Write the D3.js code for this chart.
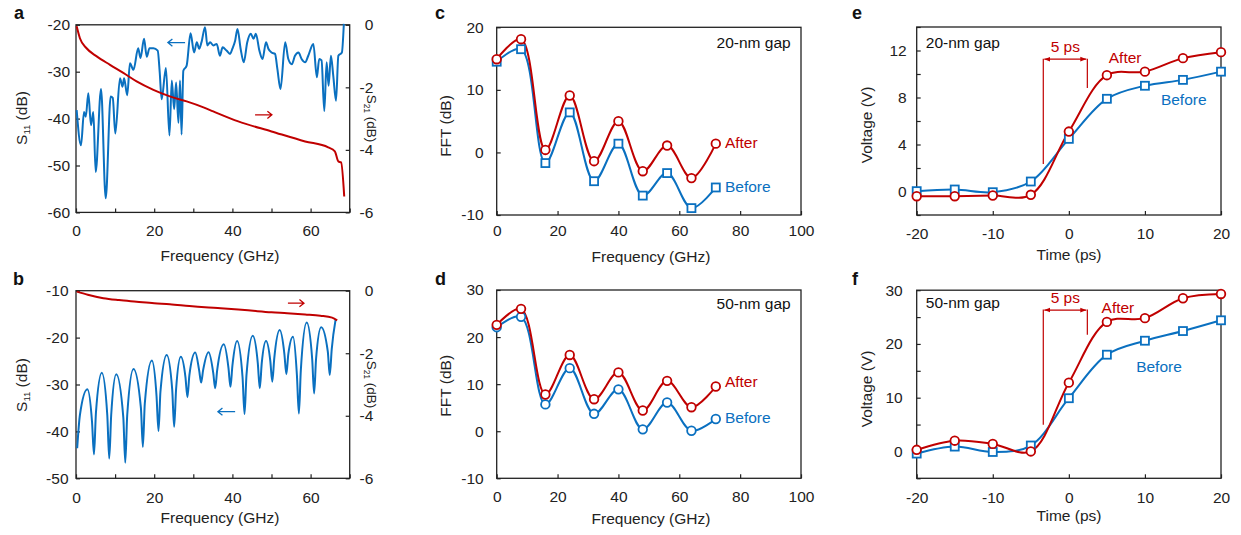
<!DOCTYPE html>
<html>
<head>
<meta charset="utf-8">
<script src="https://cdn.jsdelivr.net/npm/d3@7"></script>
<style>
  body { margin: 0; background: #fff; }
  svg text { font-family: "Liberation Sans", Arial, Helvetica, sans-serif; }
</style>
</head>
<body>
<div id="chart"></div>
<script>
// ---------- data ----------
// a: 20-nm gap device, S11 (left axis) and S21 (right axis)
const aS11Freq = [0.17, 1.28, 2.05, 2.5, 3.15, 3.84, 4.43, 5.03, 6.4, 7.6, 8.87, 9.4, 10.05, 11.25, 11.9, 12.3,
  13.1, 13.8, 14.7, 15.9, 16.5, 17.4, 18.1, 18.8, 19.8, 20.9, 21.4, 21.9, 23.0, 23.9, 24.5, 25.1, 25.6, 26.2,
  26.6, 27.0, 27.45, 28.3, 29.3, 30.2, 30.9, 31.5, 32.1, 33.0, 33.6, 34.3, 35.1, 36.0, 36.8, 37.5, 38.5,
  39.4, 40.0, 40.7, 41.3, 42.1, 42.9, 43.8, 44.7, 45.4, 46.0, 46.9, 47.7, 48.6, 49.2, 50.0, 50.9, 51.5,
  52.3, 53.5, 54.3, 55.2, 56.0, 56.9, 57.7, 58.6, 59.4, 60.7, 61.6, 62.2, 62.8, 63.5, 64.1, 64.6, 65.2,
  65.8, 66.5, 67.1, 68.0, 68.5];
const aS11 = [-38.2, -45.7, -38.6, -39.6, -34.6, -41.4, -38.6, -51.4, -33.7, -57, -35.3, -35.6, -43.2, -31.4, -33.2, -31.4,
  -35, -28.2, -29.6, -25, -27.1, -23, -26.8, -25, -25, -25.5, -30, -35.9, -29.2, -43.6, -31.9, -38, -32.3, -40.9,
  -31.9, -43.4, -29.8, -28.7, -21.8, -25.9, -23.7, -25.1, -23.7, -20.5, -24.4, -23.7, -24.4, -24.1, -26.6, -24.8, -25.5,
  -26.2, -25.1, -23.4, -20.9, -25.1, -28, -23.7, -21.9, -23, -21.9, -25.5, -27.3, -23.7, -25.1, -25.9, -26.2, -29.4,
  -33.7, -23.7, -27.3, -28.4, -26.6, -25.9, -27.3, -28, -26.6, -24.1, -31.2, -27.3, -27.6, -38.4, -28, -33, -26.6,
  -30.9, -36.2, -26.6, -25.9, -19.8];
const aS21Freq = [0.17, 1.0, 2.7, 5.3, 8.7, 12.1, 15.5, 19.8, 24.0, 28.3, 32.6, 35.1, 41.5, 50.0, 58.6, 64.5, 66.2, 67.1, 67.8, 68.6];
const aS21 = [-0.05, -0.43, -0.75, -1.01, -1.28, -1.54, -1.81, -2.08, -2.29, -2.45, -2.64, -2.77, -3.09, -3.41, -3.73, -3.92, -4.05, -4.37, -4.4, -5.49];

// b: 50-nm gap device
const bS11Freq = [0.3, 1.0, 2.9, 4.1, 4.6, 5.1, 6.6, 8.0, 8.5, 9.0, 10.3, 12.1, 12.6, 13.1, 14.7, 16.6, 17.1, 17.6,
  19.4, 20.6, 21.1, 21.6, 23.2, 24.6, 25.1, 25.6, 26.8, 28.0, 28.5, 29.0, 30.5, 31.5, 32.0, 32.5, 33.9, 35.1,
  35.6, 36.1, 37.8, 39.0, 39.5, 40.0, 41.2, 42.6, 43.1, 43.6, 45.2, 46.5, 47.0, 47.5, 48.6, 49.7, 50.2, 50.7,
  52.1, 53.3, 53.8, 54.3, 55.5, 56.5, 57.0, 57.5, 59.0, 60.4, 60.9, 61.4, 62.7, 64.4, 64.9, 65.4, 66.4];
const bS11 = [-43.6, -36.5, -31.0, -38, -44.9, -36, -27.5, -36.5, -45.8, -36.5, -27.8, -37, -46.7, -36.5, -26.7, -35, -43.3, -34,
  -24.9, -32.5, -39.9, -31.5, -23.7, -31, -39.0, -31, -24.1, -28.5, -32.7, -28, -23.2, -27, -29.6, -27, -23.1, -27.5,
  -30.8, -27, -21.4, -26.5, -30.5, -26, -20.7, -28.5, -36.3, -28, -19.6, -25.5, -30.8, -25.5, -20.7, -25, -29.4, -24.5,
  -18.4, -23.5, -27.8, -23.5, -19.8, -28, -36.2, -27, -16.8, -24.5, -31.9, -24.5, -17.8, -23, -28.0, -22.5, -16.1];
const bS21Freq = [0.2, 3.0, 7.0, 11.0, 15.5, 20.0, 24.0, 29.0, 33.0, 37.0, 41.5, 46.0, 50.0, 54.0, 58.6, 62.5, 65.5, 66.8];
const bS21 = [-0.03, -0.13, -0.24, -0.3, -0.35, -0.4, -0.43, -0.49, -0.53, -0.56, -0.6, -0.65, -0.69, -0.72, -0.76, -0.8, -0.86, -0.95];

// c, d: FFT before / after
const fftFreq = [0, 8, 16, 24, 32, 40, 48, 56, 64, 72];
const cAfter = [14.9, 18.1, 0.4, 9.1, -1.4, 5.0, -3.0, 1.1, -4.1, 1.4];
const cBefore = [14.5, 16.5, -1.7, 6.4, -4.6, 1.4, -6.9, -3.3, -8.9, -5.6];
const dAfter = [22.6, 26.0, 7.8, 16.2, 6.8, 12.5, 4.4, 10.7, 5.1, 9.5];
const dBefore = [22.1, 24.3, 5.7, 13.4, 3.7, 8.9, 0.4, 6.1, 0.1, 2.6];

// e, f: voltage vs time
const time = [-20, -15, -10, -5, 0, 5, 10, 15, 20];
const eAfter = [-0.4, -0.4, -0.34, -0.28, 5.1, 9.9, 10.2, 11.35, 11.86];
const eBefore = [0.03, 0.17, -0.06, 0.85, 4.48, 7.89, 9.0, 9.5, 10.2];
const fAfter = [0.3, 2.0, 1.4, 0.0, 12.8, 24.1, 24.8, 28.5, 29.3];
const fBefore = [-0.4, 0.9, -0.1, 1.1, 9.9, 18.0, 20.6, 22.4, 24.4];

const BLUE = "#0a70c0", RED = "#c00000", AXIS = "#222";
const FONT = '"Liberation Sans", Arial, Helvetica, sans-serif';
const FS = 15.5;
const SMOOTH = d3.curveCatmullRom.alpha(0.5);

const svg = d3.select("#chart").append("svg")
  .attr("width", 1241).attr("height", 535);

svg.append("defs").append("marker")
  .attr("id", "tri").attr("viewBox", "0 0 10 10")
  .attr("refX", 10).attr("refY", 5)
  .attr("markerWidth", 5).attr("markerHeight", 5)
  .attr("orient", "auto-start-reverse")
  .append("path").attr("d", "M0,1L10,5L0,9Z").attr("fill", RED);

const zip = (xs, ys) => xs.map((v, i) => [v, ys[i]]);

function styleAxis(sel) {
  sel.attr("font-size", FS).attr("font-family", FONT).attr("color", AXIS);
  sel.select(".domain").remove();
  sel.selectAll(".tick line").attr("stroke-width", 1.2);
}

// frame + axes of one panel
function panel(p) {
  const g = svg.append("g");
  const x = d3.scaleLinear().domain(p.xDomain).range([p.left, p.right]);
  const y = d3.scaleLinear().domain(p.yDomain).range([p.bottom, p.top]);

  g.append("rect")
    .attr("x", p.left).attr("y", p.top)
    .attr("width", p.right - p.left).attr("height", p.bottom - p.top)
    .attr("fill", "none").attr("stroke", AXIS).attr("stroke-width", 1.3);

  g.append("g")
    .attr("transform", `translate(0,${p.bottom})`)
    .call(d3.axisBottom(x).tickValues(p.xTicks)
      .tickFormat(d => p.xLabels.includes(d) ? String(d) : "")
      .tickSizeInner(-4).tickSizeOuter(0).tickPadding(p.xPad))
    .call(styleAxis);

  g.append("g")
    .attr("transform", `translate(${p.left},0)`)
    .call(d3.axisLeft(y).tickValues(p.yTicks)
      .tickFormat(d => p.yLabels.includes(d) ? String(d) : "")
      .tickSizeInner(-4).tickSizeOuter(0).tickPadding(p.yPad))
    .call(styleAxis);

  let y2 = null;
  if (p.y2Domain) {
    y2 = d3.scaleLinear().domain(p.y2Domain).range([p.bottom, p.top]);
    g.append("g")
      .attr("transform", `translate(${p.right},0)`)
      .call(d3.axisRight(y2).tickValues(p.y2Ticks).tickFormat(d => String(d))
        .tickSizeInner(-4).tickSizeOuter(0))
      .call(styleAxis)
      .call(s => s.selectAll("text").attr("text-anchor", "end").attr("x", 23.6));
  }

  // titles
  g.append("text").attr("x", p.xTitle[0]).attr("y", p.xTitle[1])
    .attr("text-anchor", "middle").attr("font-size", FS).attr("fill", AXIS)
    .text(p.xTitleText);

  const yt = g.append("text")
    .attr("transform", `translate(${p.yTitle[0]},${p.yTitle[1]}) rotate(-90)`)
    .attr("text-anchor", "middle").attr("dy", "0.35em").attr("font-size", FS).attr("fill", AXIS);
  addTitle(yt, p.yTitleText, 9.5);

  if (p.y2Title) {
    const t2 = g.append("text")
      .attr("transform", `translate(${p.y2Title[0]},${p.y2Title[1]}) rotate(90)`)
      .attr("text-anchor", "middle").attr("dy", "0.35em").attr("font-size", 13.5).attr("fill", AXIS);
    addTitle(t2, p.y2TitleText, 8.5);
  }

  g.append("text").attr("x", p.letter[0]).attr("y", p.letter[1])
    .attr("font-size", 18).attr("font-weight", "bold").attr("fill", "#111")
    .text(p.letterText);

  return { g, x, y, y2 };
}

// title given as [main, subscript, rest]
function addTitle(t, parts, subSize) {
  if (typeof parts === "string") { t.text(parts); return; }
  t.append("tspan").text(parts[0]);
  t.append("tspan").attr("font-size", subSize).attr("dy", 3).text(parts[1]);
  t.append("tspan").attr("dy", -3).text(parts[2]);
}

function line(g, x, y, pts, color, curve, width) {
  g.append("path").datum(pts)
    .attr("fill", "none").attr("stroke", color).attr("stroke-width", width || 2)
    .attr("stroke-linejoin", "round")
    .attr("d", d3.line().x(d => x(d[0])).y(d => y(d[1])).curve(curve));
}

function markers(g, x, y, pts, color, shape) {
  if (shape === "circle") {
    g.selectAll(null).data(pts).join("circle")
      .attr("cx", d => x(d[0])).attr("cy", d => y(d[1])).attr("r", 4.3)
      .attr("fill", "#fff").attr("stroke", color).attr("stroke-width", 1.8);
  } else {
    g.selectAll(null).data(pts).join("rect")
      .attr("x", d => x(d[0]) - 4).attr("y", d => y(d[1]) - 4)
      .attr("width", 8).attr("height", 8)
      .attr("fill", "#fff").attr("stroke", color).attr("stroke-width", 1.8);
  }
}

function label(g, x, y, px, py, txt, color, anchor) {
  g.append("text").attr("x", x(px)).attr("y", y(py))
    .attr("text-anchor", anchor || "start").attr("font-size", FS).attr("fill", color)
    .text(txt);
}

// little text-style arrow (open head)
function arrow(g, x, y, x1, x2, yv, color) {
  const a = x(x1), b = x(x2), py = y(yv), dir = Math.sign(b - a), h = 4.5;
  g.append("path")
    .attr("d", `M${a},${py}L${b},${py}M${b - dir * h},${py - h * 0.8}L${b},${py}L${b - dir * h},${py + h * 0.8}`)
    .attr("fill", "none").attr("stroke", color).attr("stroke-width", 1.3);
}

// 5 ps marker for e / f
function span(g, x, y, xa, xb, ya0, yb0, yTop, yArrow, yText) {
  g.append("line").attr("x1", x(xa)).attr("x2", x(xa)).attr("y1", y(ya0)).attr("y2", y(yTop))
    .attr("stroke", RED).attr("stroke-width", 1.2);
  g.append("line").attr("x1", x(xb)).attr("x2", x(xb)).attr("y1", y(yb0)).attr("y2", y(yTop))
    .attr("stroke", RED).attr("stroke-width", 1.2);
  g.append("line").attr("x1", x(xa) + 1).attr("x2", x(xb) - 1).attr("y1", y(yArrow)).attr("y2", y(yArrow))
    .attr("stroke", RED).attr("stroke-width", 1.2)
    .attr("marker-start", "url(#tri)").attr("marker-end", "url(#tri)");
  g.append("text").attr("x", (x(xa) + x(xb)) / 2).attr("y", y(yText))
    .attr("text-anchor", "middle").attr("font-size", FS).attr("fill", RED).text("5 ps");
}

const range = (a, b, s) => d3.range(a, b + s / 2, s);

// ---------- panel a ----------
{
  const p = panel({
    left: 76, right: 349.7, top: 24.8, bottom: 212.4,
    xDomain: [0, 70], xTicks: range(0, 70, 10), xLabels: [0, 20, 40, 60], xPad: 12.5,
    yDomain: [-60, -20], yTicks: range(-60, -20, 10), yLabels: range(-60, -20, 10), yPad: 6,
    y2Domain: [-6, 0], y2Ticks: [-6, -4, -2, 0],
    xTitle: [220, 261], xTitleText: "Frequency (GHz)",
    yTitle: [21.5, 118], yTitleText: ["S", "11", " (dB)"],
    y2Title: [372, 118.5], y2TitleText: ["S", "21", " (dB)"],
    letter: [14, 18.5], letterText: "a"
  });
  line(p.g, p.x, p.y, zip(aS11Freq, aS11), BLUE, d3.curveMonotoneX, 2);
  line(p.g, p.x, p.y2, zip(aS21Freq, aS21), RED, d3.curveMonotoneX, 2);
  arrow(p.g, p.x, p.y, 27.9, 23.5, -23.8, BLUE);
  arrow(p.g, p.x, p.y2, 45.8, 50.1, -2.88, RED);
}

// ---------- panel b ----------
{
  const p = panel({
    left: 76, right: 349.7, top: 290.7, bottom: 478.3,
    xDomain: [0, 70], xTicks: range(0, 70, 10), xLabels: [0, 20, 40, 60], xPad: 13.2,
    yDomain: [-50, -10], yTicks: range(-50, -10, 10), yLabels: range(-50, -10, 10), yPad: 7.5,
    y2Domain: [-6, 0], y2Ticks: [-6, -4, -2, 0],
    xTitle: [220, 523], xTitleText: "Frequency (GHz)",
    yTitle: [21.5, 385], yTitleText: ["S", "11", " (dB)"],
    y2Title: [372, 384.5], y2TitleText: ["S", "21", " (dB)"],
    letter: [13, 285], letterText: "b"
  });
  line(p.g, p.x, p.y, zip(bS11Freq, bS11), BLUE, d3.curveMonotoneX, 2);
  line(p.g, p.x, p.y2, zip(bS21Freq, bS21), RED, d3.curveMonotoneX, 2);
  arrow(p.g, p.x, p.y2, 54.2, 58.3, -0.40, RED);
  arrow(p.g, p.x, p.y, 40.7, 36.3, -35.8, BLUE);
}

// ---------- panel c ----------
{
  const p = panel({
    left: 496.7, right: 801, top: 27.3, bottom: 215,
    xDomain: [0, 100], xTicks: range(0, 100, 20), xLabels: range(0, 100, 20), xPad: 10,
    yDomain: [-10, 20], yTicks: range(-10, 20, 10), yLabels: range(-10, 20, 10), yPad: 13,
    xTitle: [651, 261.5], xTitleText: "Frequency (GHz)",
    yTitle: [446, 126], yTitleText: "FFT (dB)",
    letter: [435, 18.5], letterText: "c"
  });
  line(p.g, p.x, p.y, zip(fftFreq, cBefore), BLUE, SMOOTH);
  line(p.g, p.x, p.y, zip(fftFreq, cAfter), RED, SMOOTH);
  markers(p.g, p.x, p.y, zip(fftFreq, cBefore), BLUE, "square");
  markers(p.g, p.x, p.y, zip(fftFreq, cAfter), RED, "circle");
  label(p.g, p.x, p.y, 96.6, 16.7, "20-nm gap", "#111", "end");
  label(p.g, p.x, p.y, 75, 0.7, "After", RED);
  label(p.g, p.x, p.y, 75, -6.3, "Before", BLUE);
}

// ---------- panel d ----------
{
  const p = panel({
    left: 496.7, right: 801, top: 290, bottom: 478.3,
    xDomain: [0, 100], xTicks: range(0, 100, 20), xLabels: range(0, 100, 20), xPad: 12.3,
    yDomain: [-10, 30], yTicks: range(-10, 30, 10), yLabels: range(-10, 30, 10), yPad: 13,
    xTitle: [651, 524], xTitleText: "Frequency (GHz)",
    yTitle: [446, 385.8], yTitleText: "FFT (dB)",
    letter: [435, 285], letterText: "d"
  });
  line(p.g, p.x, p.y, zip(fftFreq, dBefore), BLUE, SMOOTH);
  line(p.g, p.x, p.y, zip(fftFreq, dAfter), RED, SMOOTH);
  markers(p.g, p.x, p.y, zip(fftFreq, dBefore), BLUE, "circle");
  markers(p.g, p.x, p.y, zip(fftFreq, dAfter), RED, "circle");
  label(p.g, p.x, p.y, 96.6, 26.0, "50-nm gap", "#111", "end");
  label(p.g, p.x, p.y, 75, 9.46, "After", RED);
  label(p.g, p.x, p.y, 75, 1.8, "Before", BLUE);
}

// ---------- panel e ----------
{
  const p = panel({
    left: 916.7, right: 1221, top: 27, bottom: 215,
    xDomain: [-20, 20], xTicks: range(-20, 20, 10), xLabels: range(-20, 20, 10), xPad: 13.2,
    yDomain: [-2, 14], yTicks: range(-2, 14, 2), yLabels: [0, 4, 8, 12], yPad: 10,
    xTitle: [1069, 260], xTitleText: "Time (ps)",
    yTitle: [867, 125], yTitleText: "Voltage (V)",
    letter: [852, 18.5], letterText: "e"
  });
  line(p.g, p.x, p.y, zip(time, eBefore), BLUE, SMOOTH);
  line(p.g, p.x, p.y, zip(time, eAfter), RED, SMOOTH);
  markers(p.g, p.x, p.y, zip(time, eBefore), BLUE, "square");
  markers(p.g, p.x, p.y, zip(time, eAfter), RED, "circle");
  span(p.g, p.x, p.y, -3.36, 2.43, 2.35, 8.8, 11.3, 11.26, 11.9);
  label(p.g, p.x, p.y, -18.8, 12.2, "20-nm gap", "#111");
  label(p.g, p.x, p.y, 7.4, 10.9, "After", RED, "middle");
  label(p.g, p.x, p.y, 15.1, 7.36, "Before", BLUE, "middle");
}

// ---------- panel f ----------
{
  const p = panel({
    left: 916.7, right: 1221, top: 290.2, bottom: 478.3,
    xDomain: [-20, 20], xTicks: range(-20, 20, 10), xLabels: range(-20, 20, 10), xPad: 13.9,
    yDomain: [-5, 30], yTicks: range(-5, 30, 5), yLabels: [0, 10, 20, 30], yPad: 14,
    xTitle: [1069, 520.7], xTitleText: "Time (ps)",
    yTitle: [867, 389], yTitleText: "Voltage (V)",
    letter: [852, 285], letterText: "f"
  });
  line(p.g, p.x, p.y, zip(time, fBefore), BLUE, SMOOTH);
  line(p.g, p.x, p.y, zip(time, fAfter), RED, SMOOTH);
  markers(p.g, p.x, p.y, zip(time, fBefore), BLUE, "square");
  markers(p.g, p.x, p.y, zip(time, fAfter), RED, "circle");
  span(p.g, p.x, p.y, -3.36, 2.43, 4.95, 21.7, 26.4, 26.3, 27.7);
  label(p.g, p.x, p.y, -18.8, 26.7, "50-nm gap", "#111");
  label(p.g, p.x, p.y, 6.45, 25.8, "After", RED, "middle");
  label(p.g, p.x, p.y, 11.85, 14.8, "Before", BLUE, "middle");
}
</script>
</body>
</html>
